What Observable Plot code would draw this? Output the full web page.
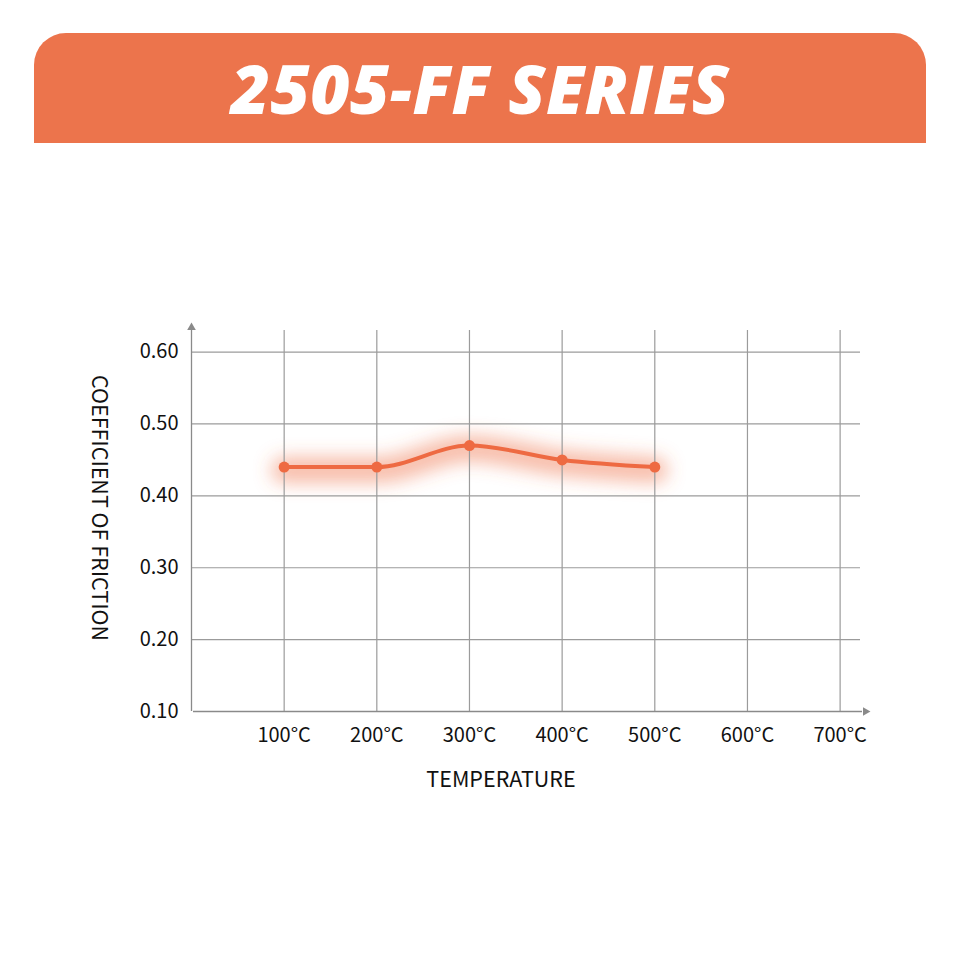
<!DOCTYPE html>
<html><head><meta charset="utf-8">
<script src="https://cdn.jsdelivr.net/npm/d3@7"></script>
<script src="https://cdn.jsdelivr.net/npm/@observablehq/plot@0.6"></script>
<style>
body{margin:0;background:#fff;width:960px;height:960px;position:relative;overflow:hidden}
#banner{position:absolute;left:34px;top:33px;width:892px;height:110px;background:#EC744C;border-radius:32px 32px 0 0;display:flex;align-items:center;justify-content:center}
#banner h1{margin:0;color:#fff;font-family:"Open Sans",sans-serif;font-weight:800;font-style:italic;font-size:68px;line-height:1;letter-spacing:0.3px}
#chart{position:absolute;left:0;top:0}
</style></head><body>
<div id="chart"></div>
<div id="banner"><h1 id="title"></h1></div>
<script>
const title = "2505-FF SERIES";
const temperatures = [100, 200, 300, 400, 500];
const friction = [0.44, 0.44, 0.47, 0.45, 0.44];
const xTicks = [100, 200, 300, 400, 500, 600, 700];
const yTicks = [0.10, 0.20, 0.30, 0.40, 0.50, 0.60];
const xDomain = [0, 722];
const yDomain = [0.10, 0.63];
const xLabel = "TEMPERATURE";
const yLabel = "COEFFICIENT OF FRICTION";

document.getElementById("title").textContent = title;
const data = temperatures.map((t, i) => ({t, f: friction[i]}));
const lineColor = "#EE6A42";
const gridColor = "#9b9b9b";

const plot = Plot.plot({
  width: 960,
  height: 960,
  marginTop: 330,
  marginBottom: 249,
  marginLeft: 191,
  marginRight: 100,
  style: {fontFamily: "'Noto Sans CJK SC', 'Noto Sans', sans-serif", fontSize: "20px", color: "#111", background: "transparent"},
  x: {domain: xDomain, ticks: xTicks, tickFormat: d => d + "°C", tickSize: 0, tickPadding: 16, label: null},
  y: {domain: yDomain, ticks: yTicks, tickFormat: d3.format(".2f"), tickSize: 0, tickPadding: 13, label: null},
  marks: [
    Plot.line(data, {x: "t", y: "f", stroke: lineColor, strokeWidth: 26, strokeOpacity: 0.45, curve: "monotone-x", strokeLinecap: "round", dy: 3}),
    Plot.ruleY(yTicks.slice(1), {x1: xDomain[0], x2: xDomain[1], stroke: gridColor, strokeWidth: 1.2}),
    Plot.ruleX(xTicks, {y1: yDomain[0], y2: yDomain[1], stroke: gridColor, strokeWidth: 1.2}),
    Plot.ruleX([xDomain[0]], {y1: yDomain[0], y2: yDomain[1], stroke: "#8a8a8a", strokeWidth: 1.3}),
    Plot.ruleY([yDomain[0]], {x1: xDomain[0], x2: xDomain[1], stroke: "#8a8a8a", strokeWidth: 1.3, dx: 2}),
    Plot.dot([[xDomain[0], yDomain[1]]], {x: d => d[0], y: d => d[1], symbol: "triangle", r: 3.2, fill: "#8a8a8a", dy: -3}),
    Plot.dot([[xDomain[1], yDomain[0]]], {x: d => d[0], y: d => d[1], symbol: "triangle", r: 3.2, fill: "#8a8a8a", dx: 5, rotate: 90}),
    Plot.line(data, {x: "t", y: "f", stroke: lineColor, strokeWidth: 4, curve: "monotone-x"}),
    Plot.dot(data, {x: "t", y: "f", r: 5.5, fill: lineColor}),
    Plot.text([xLabel], {frameAnchor: "bottom", dx: -25, dy: 75, fontSize: 21.5, fill: "#111"}),
    Plot.text([yLabel], {frameAnchor: "left", textAnchor: "middle", dx: -93, dy: -13, rotate: 90, fontSize: 21.5, fill: "#111"})
  ]
});

const svg = d3.select(plot);
const defs = svg.insert("defs", ":first-child");
const f = defs.append("filter").attr("id", "glow").attr("x", "-20%").attr("y", "-300%").attr("width", "140%").attr("height", "700%");
f.append("feGaussianBlur").attr("stdDeviation", 9);
const lines = svg.selectAll('g[aria-label="line"]').nodes();
if (lines.length) d3.select(lines[0]).attr("filter", "url(#glow)");
document.getElementById("chart").appendChild(plot);
</script>
</body></html>
